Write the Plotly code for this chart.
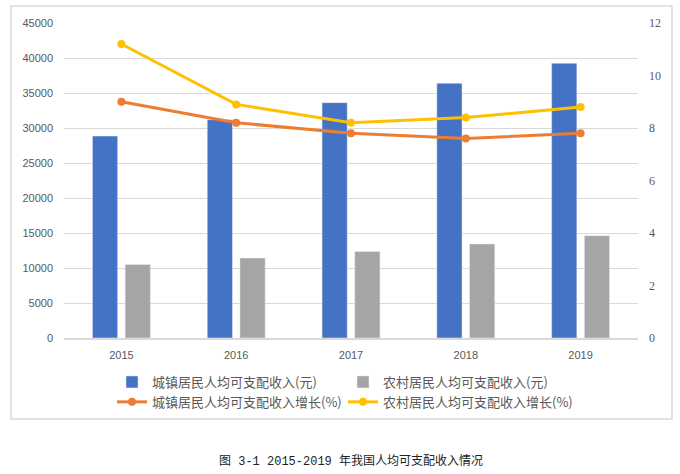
import plotly.graph_objects as go

years = ["2015", "2016", "2017", "2018", "2019"]
urban_income = [28844, 31195, 33616, 36396, 39251]
rural_income = [10489, 11422, 12363, 13432, 14617]
urban_growth = [9.0, 8.2, 7.8, 7.6, 7.8]
rural_growth = [11.2, 8.9, 8.2, 8.4, 8.8]

names = ["城镇居民人均可支配收入(元)", "农村居民人均可支配收入(元)",
         "城镇居民人均可支配收入增长(%)", "农村居民人均可支配收入增长(%)"]
caption = "图 3-1 2015-2019 年我国人均可支配收入情况"

fig = go.Figure()
fig.add_trace(go.Bar(x=years, y=urban_income, name=names[0], marker_color="#4472C4"))
fig.add_trace(go.Bar(x=years, y=rural_income, name=names[1], marker_color="#A5A5A5"))
fig.add_trace(go.Scatter(x=years, y=urban_growth, name=names[2], yaxis="y2",
                         mode="lines+markers", line=dict(color="#ED7D31", width=3),
                         marker=dict(size=8, color="#ED7D31")))
fig.add_trace(go.Scatter(x=years, y=rural_growth, name=names[3], yaxis="y2",
                         mode="lines+markers", line=dict(color="#FFC000", width=3),
                         marker=dict(size=8, color="#FFC000")))

L, R, T, B = 64, 42, 23, 136
W, H = 680, 474
pw, ph = W - L - R, H - T - B

def px(x):
    return (x - L) / pw

def py(y):
    return (H - B - y) / ph

fig.update_layout(
    width=W, height=H,
    margin=dict(l=L, r=R, t=T, b=B, pad=0),
    paper_bgcolor="white", plot_bgcolor="white",
    barmode="group", bargap=0.43, bargroupgap=0.23,
    font=dict(family="Noto Sans CJK SC, Liberation Sans, sans-serif", color="#595959"),
    xaxis=dict(type="category", showgrid=False, showline=True, linecolor="#D9D9D9",
               linewidth=2, ticks="", ticklabelstandoff=6,
               tickfont=dict(size=11, color="#595959",
                             family="Liberation Sans, Arial, sans-serif")),
    yaxis=dict(range=[0, 45000], dtick=5000, tickformat="d", showgrid=True,
               gridcolor="#D9D9D9", gridwidth=1, zeroline=False, ticks="",
               tickfont=dict(size=11, color="#595959",
                             family="Liberation Sans, Arial, sans-serif"),
               ticklabelstandoff=10),
    yaxis2=dict(range=[0, 12], dtick=2, overlaying="y", side="right", showgrid=False,
                zeroline=False, ticks="",
                tickfont=dict(size=12, color="#595959",
                              family="Liberation Serif, DejaVu Serif, serif"),
                ticklabelstandoff=10),
    legend=dict(orientation="h", x=px(112), y=py(367), xanchor="left", yanchor="top",
                entrywidth=186, entrywidthmode="pixels", traceorder="normal",
                font=dict(size=13, color="#595959",
                          family="Noto Sans CJK SC, sans-serif"),
                itemwidth=30, tracegroupgap=0),
    showlegend=True,
)

fig.add_shape(type="rect", xref="paper", yref="paper",
              x0=px(11), x1=px(672), y0=py(419), y1=py(6),
              line=dict(color="#D9D9D9", width=1.5), fillcolor="rgba(0,0,0,0)", layer="below")

fig.add_annotation(text=caption, xref="paper", yref="paper", x=px(351), y=py(461),
                   xanchor="center", yanchor="middle", showarrow=False,
                   font=dict(size=12, color="#222222",
                             family="Liberation Mono, Noto Sans CJK SC, monospace"))

fig.write_html("out.html")
